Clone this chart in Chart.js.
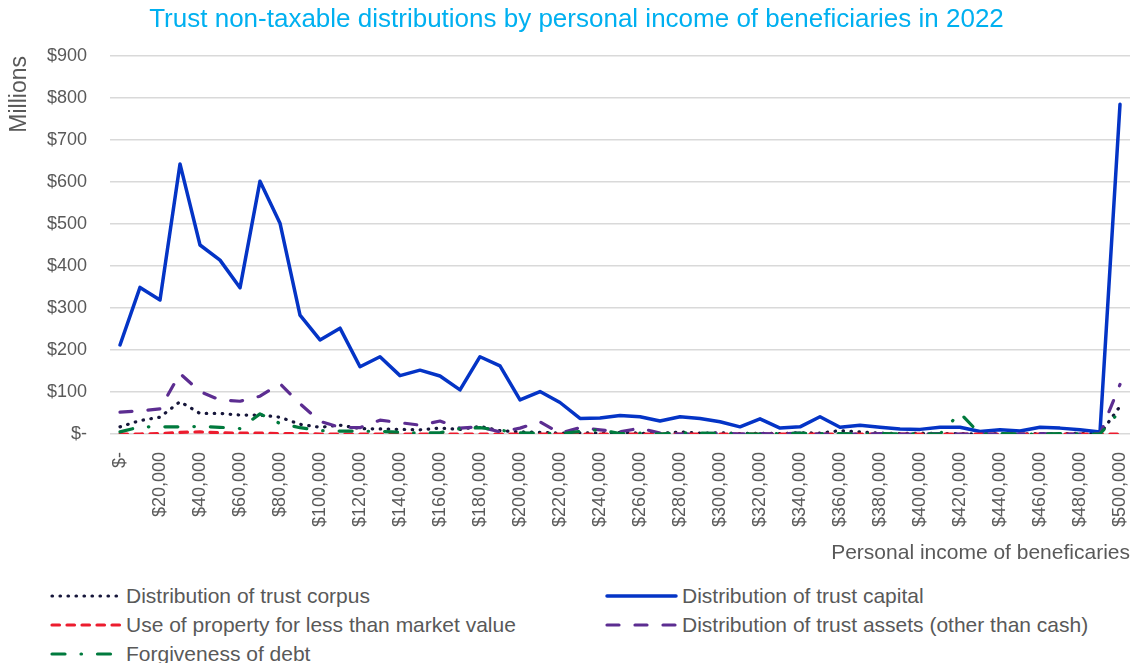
<!DOCTYPE html>
<html>
<head>
<meta charset="utf-8">
<script src="https://cdn.jsdelivr.net/npm/chart.js@4.4.1/dist/chart.umd.min.js"></script>
<style>
  html, body { margin: 0; padding: 0; background: #fff; overflow: hidden; }
  #wrap { position: relative; width: 1135px; height: 663px; }
  #chart { position: absolute; left: 0; top: 0; }
  .legend-item {
    position: absolute;
    height: 28px;
    display: flex;
    align-items: center;
    font-family: 'Liberation Sans', Arial, sans-serif;
    font-size: 21px;
    color: #595959;
    white-space: nowrap;
  }
  .legend-item svg { margin-right: 4px; }
</style>
</head>
<body>
<div id="wrap">
  <canvas id="chart" width="1135" height="580"></canvas>
  <div id="legend"></div>
</div>
<script>
const incomeLabels = [
  '$-', '$10,000', '$20,000', '$30,000', '$40,000', '$50,000', '$60,000', '$70,000', '$80,000', '$90,000',
  '$100,000', '$110,000', '$120,000', '$130,000', '$140,000', '$150,000', '$160,000', '$170,000', '$180,000', '$190,000',
  '$200,000', '$210,000', '$220,000', '$230,000', '$240,000', '$250,000', '$260,000', '$270,000', '$280,000', '$290,000',
  '$300,000', '$310,000', '$320,000', '$330,000', '$340,000', '$350,000', '$360,000', '$370,000', '$380,000', '$390,000',
  '$400,000', '$410,000', '$420,000', '$430,000', '$440,000', '$450,000', '$460,000', '$470,000', '$480,000', '$490,000',
  '$500,000',
];

// $ millions
const trustCorpus = [
  17, 32, 40, 77, 49, 49, 45, 45, 40, 23, 16, 21, 13, 12, 11, 10, 14, 11, 18, 8,
  5, 4, 2, 3, 2, 4, 2, 1, 5, 2, 3, 1, 2, 1, 3, 2, 8, 5, 2, 1,
  2, 1, 1, 0, 1, 0, 1, 0, 2, 0, 66,
];
const trustCapital = [
  212, 349, 319, 643, 450, 414, 348, 602, 502, 283, 224, 252, 160, 184, 139, 152, 138, 105, 184, 162,
  81, 101, 75, 37, 38, 44, 41, 31, 41, 37, 29, 17, 36, 14, 17, 41, 16, 21, 16, 12,
  11, 16, 16, 6, 10, 7, 16, 14, 10, 5, 785,
];
const propertyUse = [
  0, 0, 1, 4, 5, 3, 2, 2, 1, 1, 0, 0, 0, 0, 0, 0, 0, 0, 0, 0,
  0, 0, 0, 0, 0, 0, 0, 0, 0, 0, 0, 0, 0, 0, 0, 0, 0, 0, 0, 0,
  0, 0, 0, 0, 0, 0, 0, 0, 0, 0, 0,
];
const trustAssets = [
  52, 55, 60, 144, 101, 81, 78, 90, 120, 72, 30, 16, 15, 33, 27, 21, 31, 14, 17, 5,
  14, 29, 2, 15, 10, 5, 14, 2, 0, 1, 2, 0, 1, 0, 2, 0, 0, 0, 1, 0,
  0, 1, 0, 0, 0, 0, 1, 0, 0, 0, 118,
];
const debtForgiveness = [
  5, 17, 17, 17, 18, 16, 13, 48, 25, 15, 8, 7, 7, 6, 4, 2, 3, 13, 15, 9,
  3, 2, 1, 6, 10, 1, 2, 0, 3, 2, 1, 1, 0, 1, 2, 1, 1, 0, 1, 0,
  1, 0, 50, 0, 1, 0, 0, 1, 0, 0, 55,
];

const FONT = "'Liberation Sans', Arial, sans-serif";
const GREY = '#595959';

function lineSet(label, data, color, width, dash, order) {
  return {
    label,
    data,
    borderColor: color,
    backgroundColor: color,
    borderWidth: width,
    borderDash: dash,
    borderCapStyle: 'round',
    borderJoinStyle: 'round',
    pointRadius: 0,
    tension: 0,
    fill: false,
    order,
  };
}

const datasets = [
  lineSet('Distribution of trust corpus', trustCorpus, '#16163a', 3.2, [0.5, 7.5], 5),
  lineSet('Distribution of trust capital', trustCapital, '#0434c6', 3.5, [], 4),
  lineSet('Use of property for less than market value', propertyUse, '#ec1c2e', 3.2, [7.5, 7.5], 3),
  lineSet('Distribution of trust assets (other than cash)', trustAssets, '#5c2d91', 3.2, [12, 16], 2),
  lineSet('Forgiveness of debt', debtForgiveness, '#007a3d', 3.2, [13, 16, 0.5, 16], 1),
];

new Chart(document.getElementById('chart'), {
  type: 'line',
  data: { labels: incomeLabels, datasets },
  options: {
    responsive: false,
    animation: false,
    layout: { padding: { left: 23, right: 5, top: 0, bottom: 0 } },
    plugins: {
      legend: { display: false },
      tooltip: { enabled: false },
      title: {
        display: true,
        text: 'Trust non-taxable distributions by personal income of beneficiaries in 2022',
        color: '#00b0f0',
        font: { family: FONT, size: 26, weight: 'normal' },
        padding: { top: 4.4, bottom: 20.4 },
      },
    },
    scales: {
      x: {
        offset: true,
        grid: { display: false, drawTicks: false },
        border: { display: false },
        ticks: {
          autoSkip: false,
          minRotation: 90,
          maxRotation: 90,
          padding: 18,
          color: GREY,
          font: { family: FONT, size: 18 },
          callback: (v, i) => (i % 2 === 0 ? incomeLabels[i] : ''),
        },
        title: {
          display: true,
          text: 'Personal income of beneficaries',
          align: 'end',
          color: GREY,
          font: { family: FONT, size: 21 },
          padding: { top: 0, bottom: 14 },
        },
        afterFit: (s) => {
          s.height = 146;
          // the rotated last label does not need extra room on the right
          s.paddingLeft = 0;
          s.paddingRight = 0;
        },
      },
      y: {
        min: 0,
        max: 900,
        grid: { color: '#d9d9d9', lineWidth: 1.5, drawTicks: false },
        border: { display: false },
        ticks: {
          stepSize: 100,
          padding: 23,
          color: GREY,
          font: { family: FONT, size: 18 },
          callback: (v) => (v === 0 ? '$-' : '$' + v),
        },
        title: {
          display: true,
          text: 'Millions',
          align: 'end',
          color: GREY,
          font: { family: FONT, size: 23 },
          padding: { top: -16.8, bottom: 0 },
        },
        afterFit: (s) => { s.width = 87; },
      },
    },
  },
});

// legend slots: [left of line sample, centre y, line length]
const legendSlots = [
  [50, 596, 70],
  [605, 596, 71],
  [50, 625, 70],
  [605, 625, 71],
  [50, 654, 70],
];

const legendEl = document.getElementById('legend');
datasets.forEach((ds, i) => {
  const [x, cy, len] = legendSlots[i];
  const item = document.createElement('div');
  item.className = 'legend-item';
  item.style.left = x + 'px';
  item.style.top = (cy - 14) + 'px';
  const dash = ds.borderDash.length ? ds.borderDash.join(' ') : 'none';
  item.innerHTML =
    `<svg width="${len + 2}" height="10"><line x1="2" y1="5" x2="${len}" y2="5" stroke="${ds.borderColor}" ` +
    `stroke-width="${ds.borderWidth}" stroke-linecap="round" stroke-dasharray="${dash}"/></svg>` +
    `<span>${ds.label}</span>`;
  legendEl.appendChild(item);
});
</script>
</body>
</html>
